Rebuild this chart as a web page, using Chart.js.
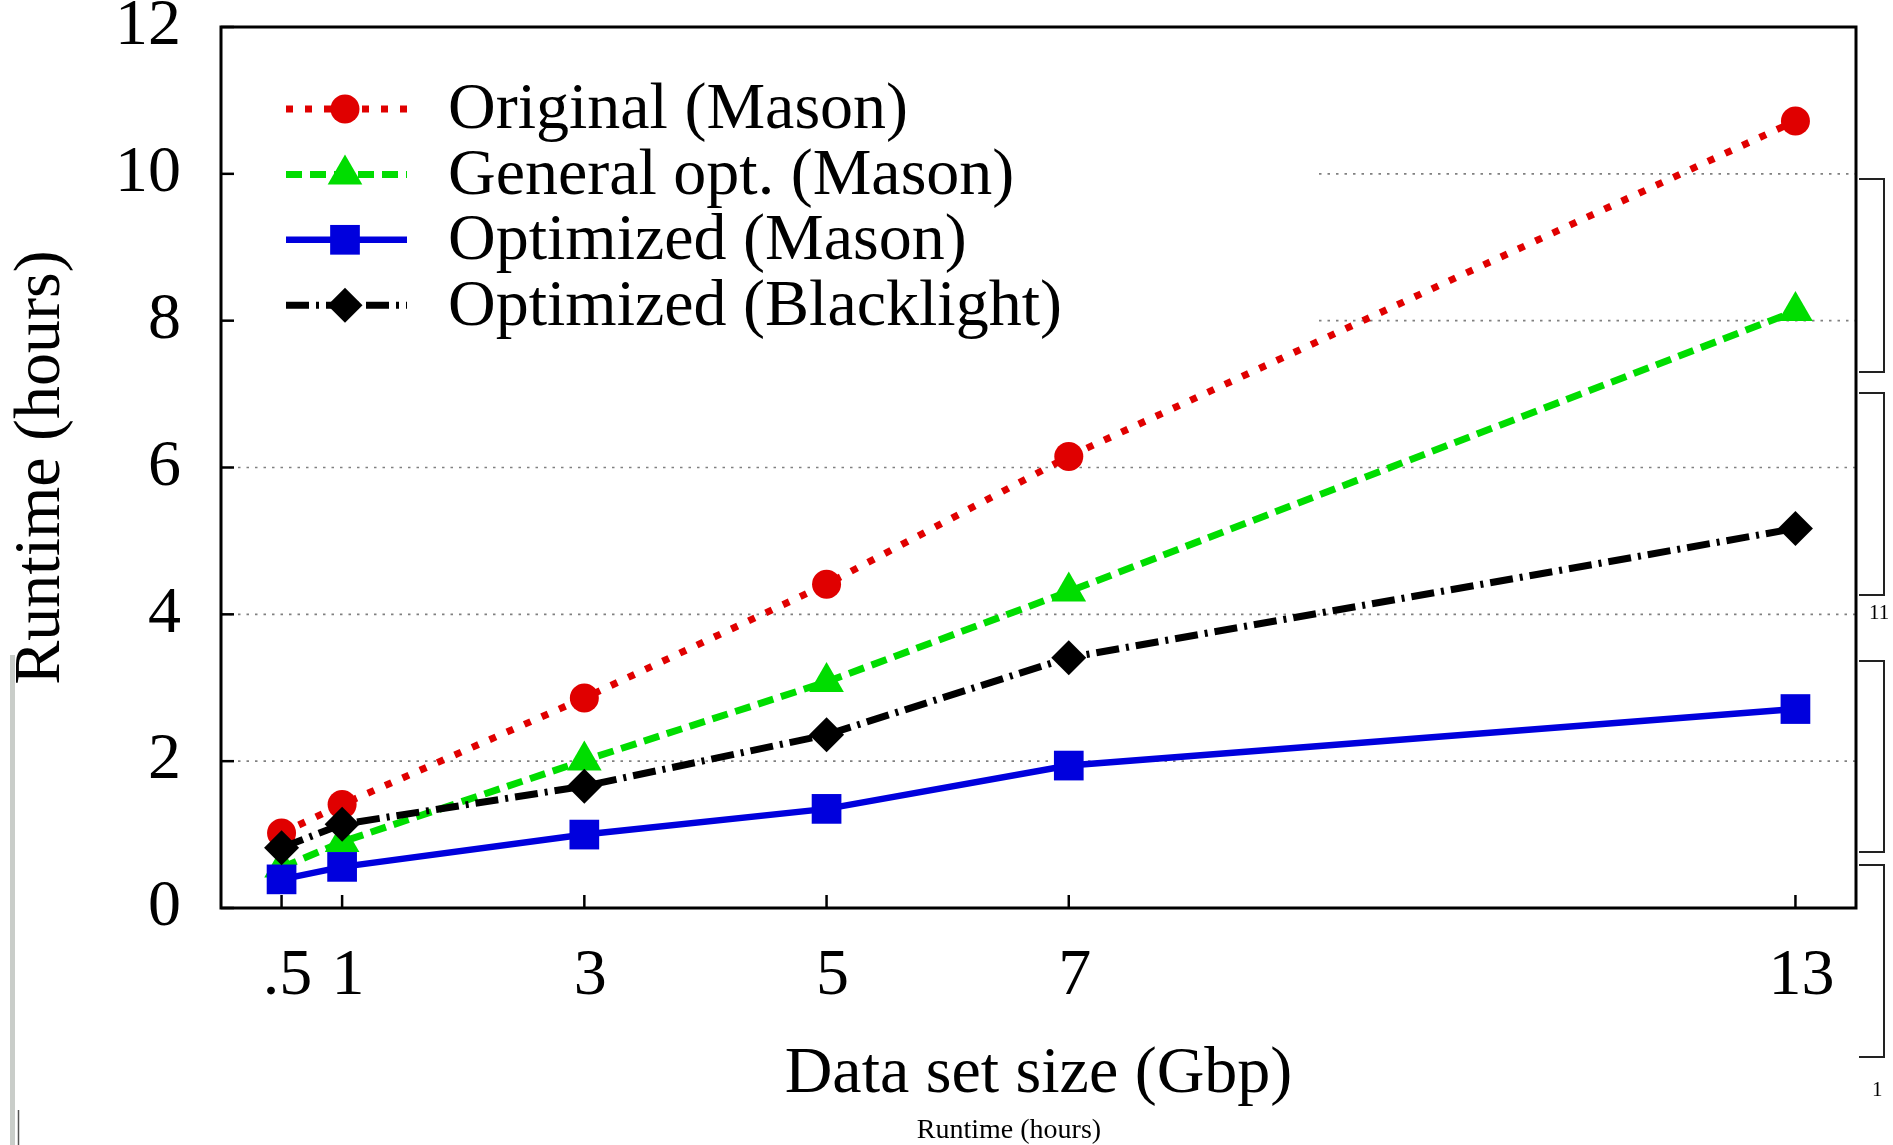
<!DOCTYPE html>
<html>
<head>
<meta charset="utf-8">
<script src="https://cdn.jsdelivr.net/npm/chart.js@4.4.1/dist/chart.umd.min.js"></script>
<style>
  html, body { margin: 0; padding: 0; background: #fff; }
  #wrap { width: 1893px; height: 1145px; position: relative; }
</style>
</head>
<body>
<div id="wrap"><canvas id="runtimeChart"></canvas></div>
<script>
// Data
const sizes = [0.5, 1, 3, 5, 7, 13];
const xTickLabels = ['.5', '1', '3', '5', '7', '13'];
const yTicks = [0, 2, 4, 6, 8, 10, 12];
const seriesNames = ['Original (Mason)', 'General opt. (Mason)', 'Optimized (Mason)', 'Optimized (Blacklight)'];
const originalMason = [1.02, 1.41, 2.86, 4.41, 6.15, 10.72];
const generalOptMason = [0.55, 0.9, 2.01, 3.08, 4.31, 8.13];
const optimizedMason = [0.39, 0.56, 1.0, 1.35, 1.94, 2.71];
const optimizedBlacklight = [0.82, 1.14, 1.66, 2.36, 3.41, 5.17];

const colors = {
    red: '#e00000',
    green: '#00dd00',
    blue: '#0000dd',
    black: '#000000',
    grid: '#808080'
};

Chart.defaults.font.family = "'Liberation Serif', 'DejaVu Serif', serif";
Chart.defaults.color = '#000';

function pts(values) {
    return values.map((v, i) => ({ x: sizes[i], y: v }));
}

const datasets = [
    { label: seriesNames[0], data: pts(originalMason), borderColor: colors.red, backgroundColor: colors.red,
      borderDash: [7, 12], borderWidth: 7, pointStyle: 'circle', pointRadius: 14.5, order: 4 },
    { label: seriesNames[1], data: pts(generalOptMason), borderColor: colors.green, backgroundColor: colors.green,
      borderDash: [16, 8], borderWidth: 7, pointStyle: 'triangle', pointRadius: 20, order: 3 },
    { label: seriesNames[2], data: pts(optimizedMason), borderColor: colors.blue, backgroundColor: colors.blue,
      borderDash: [], borderWidth: 6.5, pointStyle: 'rect', pointRadius: 21, order: 2 },
    { label: seriesNames[3], data: pts(optimizedBlacklight), borderColor: colors.black, backgroundColor: colors.black,
      borderDash: [23, 7, 3, 7], borderWidth: 7, pointStyle: 'rectRot', pointRadius: 17.5, order: 1 }
];
datasets.forEach(d => {
    d.pointBorderWidth = 0;
    d.pointHoverRadius = d.pointRadius;
    d.tension = 0;
    d.fill = false;
    d.borderCapStyle = 'butt';
});

// the key box hides the grid behind it
const legendBox = { right: 1319, bottom: 340 };

// gnuplot-style frame, inward ticks and dotted grid
const framePlugin = {
    id: 'frame',
    beforeDatasetsDraw(chart) {
        const { ctx, chartArea: a, scales: { y } } = chart;
        ctx.save();
        ctx.strokeStyle = colors.grid;
        ctx.lineWidth = 1.6;
        ctx.setLineDash([2.5, 6]);
        yTicks.forEach(v => {
            if (v === 0 || v === 12) return;
            const py = y.getPixelForValue(v);
            const x0 = py < legendBox.bottom ? legendBox.right : a.left;
            ctx.beginPath();
            ctx.moveTo(x0, py);
            ctx.lineTo(a.right, py);
            ctx.stroke();
        });
        ctx.restore();
    },
    afterDatasetsDraw(chart) {
        const { ctx, chartArea: a, scales: { x, y } } = chart;
        ctx.save();
        ctx.strokeStyle = '#000';
        ctx.lineWidth = 2.5;
        yTicks.forEach(v => {
            const py = y.getPixelForValue(v);
            ctx.beginPath();
            ctx.moveTo(a.left, py);
            ctx.lineTo(a.left + 13, py);
            ctx.stroke();
        });
        sizes.forEach(v => {
            const px = x.getPixelForValue(v);
            ctx.beginPath();
            ctx.moveTo(px, a.bottom);
            ctx.lineTo(px, a.bottom - 13);
            ctx.stroke();
        });
        ctx.lineWidth = 3;
        ctx.strokeRect(a.left, a.top, a.right - a.left, a.bottom - a.top);
        ctx.restore();
    }
};

// key inside the plot: line sample + marker + text
const keyPlugin = {
    id: 'key',
    afterDatasetsDraw(chart) {
        const { ctx, chartArea: a } = chart;
        ctx.save();
        chart.data.datasets.forEach((d, i) => {
            const yy = a.top + 82 + i * 65.4;
            const x1 = a.left + 65, x2 = a.left + 186, xm = a.left + 124;
            ctx.strokeStyle = d.borderColor;
            ctx.lineWidth = d.borderWidth;
            ctx.setLineDash(d.borderDash);
            ctx.lineCap = 'butt';
            ctx.beginPath();
            ctx.moveTo(x1, yy);
            ctx.lineTo(x2, yy);
            ctx.stroke();
            ctx.setLineDash([]);
            ctx.fillStyle = d.backgroundColor;
            ctx.strokeStyle = d.borderColor;
            Chart.helpers.drawPoint(ctx, { pointStyle: d.pointStyle, radius: d.pointRadius, rotation: 0, borderWidth: 0 }, xm, yy);
            ctx.fillStyle = '#000';
            ctx.font = "66px 'Liberation Serif'";
            ctx.textAlign = 'left';
            ctx.textBaseline = 'middle';
            ctx.fillText(d.label, a.left + 227, yy + 2);
        });
        ctx.restore();
    }
};

// page-crop leftovers around the figure
const marginPlugin = {
    id: 'margins',
    afterDraw(chart) {
        const { ctx } = chart;
        ctx.save();
        ctx.fillStyle = '#c9cdc9';
        ctx.fillRect(10, 655, 5, 490);
        ctx.strokeStyle = '#555';
        ctx.lineWidth = 1.5;
        ctx.beginPath();
        ctx.moveTo(18.5, 1110);
        ctx.lineTo(18.5, 1145);
        ctx.stroke();
        ctx.strokeStyle = '#222';
        ctx.lineWidth = 2;
        [[179, 372], [393, 595], [661, 852], [865, 1057]].forEach(([t, b]) => {
            ctx.beginPath();
            ctx.moveTo(1859, t);
            ctx.lineTo(1884, t);
            ctx.lineTo(1884, b);
            ctx.lineTo(1859, b);
            ctx.stroke();
        });
        ctx.fillStyle = '#000';
        ctx.font = "21px 'Liberation Serif'";
        ctx.textBaseline = 'middle';
        ctx.textAlign = 'left';
        ctx.fillText('11', 1869, 613);
        ctx.fillText('1', 1872, 1090);
        ctx.font = "28px 'Liberation Serif'";
        ctx.textAlign = 'center';
        ctx.fillText('Runtime (hours)', 1009, 1131);
        ctx.restore();
    }
};

new Chart(document.getElementById('runtimeChart'), {
    type: 'line',
    data: { datasets: datasets },
    options: {
        responsive: true,
        maintainAspectRatio: false,
        animation: false,
        events: [],
        layout: { padding: { top: 27, right: 37, left: 0, bottom: 0 } },
        plugins: { legend: { display: false }, tooltip: { enabled: false } },
        scales: {
            x: {
                type: 'linear',
                min: 0,
                max: 13.5,
                grid: { display: false, drawTicks: false },
                border: { display: false },
                afterBuildTicks: s => { s.ticks = sizes.map(v => ({ value: v })); },
                afterFit: s => { s.height = 237; s.paddingLeft = 0; s.paddingRight = 0; },
                ticks: {
                    padding: 36,
                    labelOffset: 6,
                    maxRotation: 0,
                    font: { size: 66, lineHeight: 1 },
                    callback: (v, i) => xTickLabels[i]
                },
                title: {
                    display: true,
                    text: 'Data set size (Gbp)',
                    font: { size: 66, lineHeight: 1 },
                    padding: { top: 0, bottom: 37 }
                }
            },
            y: {
                min: 0,
                max: 12,
                grid: { display: false, drawTicks: false },
                border: { display: false },
                afterBuildTicks: s => { s.ticks = yTicks.map(v => ({ value: v })); },
                afterFit: s => { s.width = 221; s.paddingTop = 0; s.paddingBottom = 0; },
                ticks: {
                    padding: 40,
                    font: { size: 66, lineHeight: 1 }
                },
                title: {
                    display: true,
                    text: 'Runtime (hours)',
                    font: { size: 66, lineHeight: 1 },
                    padding: { top: 9, bottom: 0 }
                }
            }
        }
    },
    plugins: [framePlugin, keyPlugin, marginPlugin]
});
</script>
</body>
</html>
